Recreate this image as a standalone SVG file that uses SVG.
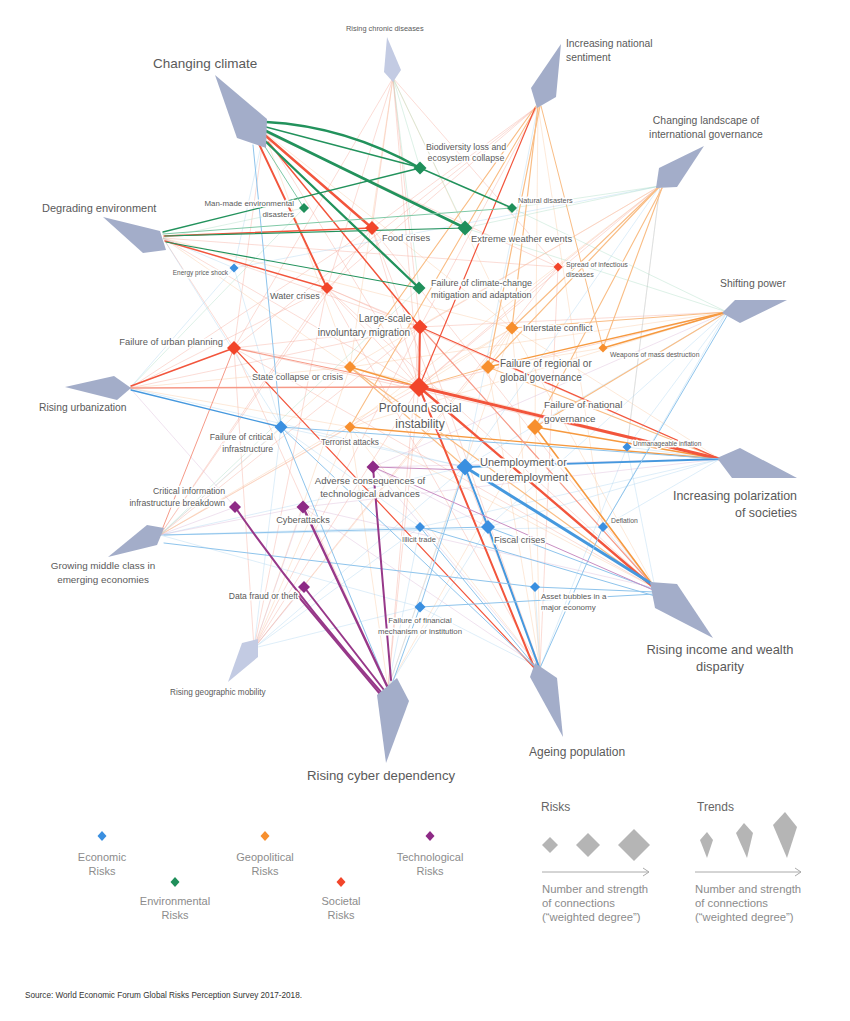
<svg xmlns="http://www.w3.org/2000/svg" width="850" height="1021" viewBox="0 0 850 1021">
<style>
.bg{fill:#fff}
.faint{fill:none;stroke-width:1;opacity:.38}
.fr{stroke:#f5a493}.fo{stroke:#f9c49a}.fb{stroke:#a9d1f0}.fg{stroke:#a5d9c0}.fp{stroke:#d8b2d4}
.e{fill:none;stroke-linecap:round}
.r{stroke:#f2553c}.o{stroke:#f6993f}.b{stroke:#4598de}.g{stroke:#22925c}.p{stroke:#973889}
.lr{stroke:#f69a88}.lo{stroke:#f9bd85}.lb{stroke:#8ec4ec}.lg{stroke:#7fc9a6}.lp{stroke:#c98ec2}
.trend{fill:#a3adc9}.trend2{fill:#c3cbe3}
.econ{fill:#3a8fe0}.env{fill:#1f8f5a}.geo{fill:#f78f2e}.soc{fill:#f2452a}.tech{fill:#8e2a86}
text{font-family:"Liberation Sans",Arial,Helvetica,sans-serif}
.lbl{fill:#5a5a5a;paint-order:stroke;stroke:#fff;stroke-width:3px;stroke-linejoin:round}
.leg{fill:#8c8c8c}
.legt{fill:#666}
.gray{fill:#b5b5b5}
.arr{fill:none;stroke:#aaa;stroke-width:1}
</style>
<rect class="bg" x="0" y="0" width="850" height="1021"/>

<g id="connectors">
<path class="faint fr" d="M393,78L558,267 M393,78L419,387 M393,78L372,228 M393,78L420,327 M393,78L327,288 M393,78L234,348 M264,132L419,387 M264,132L234,348 M264,132L558,267 M163,238L419,387 M163,238L420,327 M163,238L234,348 M163,238L558,267 M130,388L327,288 M130,388L420,327 M130,388L372,228 M160,535L419,387 M160,535L420,327 M160,535L327,288 M160,535L372,228 M254,648L420,327 M254,648L419,387 M254,648L234,348 M254,648L558,267 M254,648L327,288 M538,106L420,327 M538,106L234,348 M538,106L327,288 M538,106L372,228 M540,668L420,327 M540,668L558,267 M540,668L327,288 M540,668L372,228 M655,588L327,288 M655,588L372,228 M655,588L234,348 M720,459L327,288 M720,459L234,348 M727,312L420,327 M727,312L419,387 M660,186L420,327 M660,186L419,387 M660,186L558,267 M388,688L419,387 M388,688L420,327 M388,688L234,348 M234,348L350,367 M234,348L420,327 M327,288L419,387 M372,228L419,387 M558,267L419,387 M327,288L420,327"/>
<path class="faint fo" d="M538,106L535,427 M264,132L350,367 M264,132L512,328 M163,238L512,328 M163,238L350,367 M660,186L350,427 M660,186L350,367 M727,312L350,367 M727,312L350,427 M720,459L350,367 M720,459L512,328 M388,688L350,427 M388,688L535,427 M388,688L512,328 M655,588L512,328 M655,588L350,427 M130,388L350,367 M130,388L350,427 M160,535L350,427 M160,535L512,328 M160,535L350,367 M540,668L512,328 M540,668L350,427 M540,668L488,367 M540,668L535,427 M254,648L350,367 M254,648L512,328 M254,648L350,427 M393,78L512,328 M393,78L350,367 M512,328L488,367 M512,328L419,387 M603,348L488,367 M538,106L603,527 M660,186L627,447"/>
<path class="faint fb" d="M264,132L234,268 M163,238L234,268 M130,388L234,268 M160,535L281,427 M160,535L420,527 M160,535L465,467 M254,648L281,427 M254,648L465,467 M254,648L420,607 M254,648L420,527 M388,688L420,527 M388,688L488,527 M388,688L465,467 M540,668L420,607 M540,668L535,587 M540,668L465,467 M540,668L627,447 M655,588L627,447 M655,588L603,527 M720,459L627,447 M720,459L488,527 M720,459L603,527 M720,459L420,527 M727,312L627,447 M727,312L603,527 M727,312L488,527 M727,312L465,467 M660,186L627,447 M660,186L465,467 M660,186L234,268 M538,106L465,467 M130,388L465,467 M163,238L281,427 M281,427L420,527 M281,427L465,467 M234,268L281,427 M160,535L420,607 M160,535L603,527"/>
<path class="faint fg" d="M163,238L304,208 M130,388L304,208 M660,186L465,228 M660,186L512,208 M727,312L512,208 M160,535L419,288 M393,78L465,228 M393,78L419,288 M393,78L420,168 M727,312L465,228"/>
<path class="faint fp" d="M130,388L235,507 M160,535L235,507 M160,535L303,507 M720,459L373,467 M727,312L373,467 M655,588L303,507 M254,648L303,507 M540,668L373,467 M540,668L303,507 M254,648L304,587 M373,467L488,527 M720,459L303,507"/>

<path class="e lo" stroke-width="1.2" d="M538,106L512,328"/>
<path class="e lo" stroke-width="1.2" d="M540,106L488,367"/>
<path class="e lo" stroke-width="1.1" d="M536,106L350,367"/>
<path class="e lo" stroke-width="1.1" d="M536,108L350,427"/>
<path class="e lo" stroke-width="1" d="M541,106L603,348"/>
<path class="e lo" stroke-width="1.2" d="M660,186L488,367"/>
<path class="e lo" stroke-width="1.2" d="M660,186L512,328"/>
<path class="e lo" stroke-width="1.1" d="M662,188L603,348"/>
<path class="e lo" stroke-width="1.1" d="M662,188L535,427"/>
<path class="e lo" stroke-width="1.2" d="M727,312L512,328"/>
<path class="e o" stroke-width="1.5" d="M727,312L603,348"/>
<path class="e o" stroke-width="1.3" d="M727,312L488,367"/>
<path class="e lo" stroke-width="1.1" d="M727,312L535,427"/>
<path class="e o" stroke-width="1.6" d="M350,367L419,387"/>
<path class="e lo" stroke-width="1.1" d="M350,367L465,467"/>
<path class="e o" stroke-width="1.3" d="M350,427L720,459"/>
<path class="e o" stroke-width="1.6" d="M535,427L720,459"/>
<path class="e o" stroke-width="1.6" d="M535,427L655,588"/>
<path class="e lo" stroke-width="1.1" d="M488,367L720,459"/>
<path class="e lo" stroke-width="1" d="M488,367L419,387"/>
<path class="e lo" stroke-width="1.2" d="M350,367L655,588"/>

<path class="e r" stroke-width="2.4" d="M266,136L372,228"/>
<path class="e r" stroke-width="1.9" d="M258,142L327,288"/>
<path class="e r" stroke-width="1.5" d="M268,142L420,327"/>
<path class="e r" stroke-width="1.4" d="M164,236L372,228"/>
<path class="e r" stroke-width="1.4" d="M165,241L327,288"/>
<path class="e r" stroke-width="1.4" d="M131,386L234,348"/>
<path class="e lr" stroke-width="1.4" d="M131,388L419,387"/>
<path class="e lr" stroke-width="1.1" d="M234,348L419,387"/>
<path class="e lr" stroke-width="1" d="M234,348L158,540"/>
<path class="e r" stroke-width="1.2" d="M234,348L538,672"/>
<path class="e r" stroke-width="2" d="M420,327L419,387"/>
<path class="e r" stroke-width="1.2" d="M420,327L720,459"/>
<path class="e lr" stroke-width="1.2" d="M420,327L655,588"/>
<path class="e r" stroke-width="1.2" d="M535,108L419,387"/>
<path class="e r" stroke-width="3" d="M419,387L720,459"/>
<path class="e r" stroke-width="2.4" d="M419,387L652,586"/>
<path class="e r" stroke-width="2" d="M419,387L536,672"/>

<path class="e b" stroke-width="3" d="M465,467L652,584"/>
<path class="e b" stroke-width="1.8" d="M465,467L720,459"/>
<path class="e b" stroke-width="2" d="M465,467L488,527"/>
<path class="e b" stroke-width="2" d="M488,527L540,670"/>
<path class="e b" stroke-width="1.3" d="M131,390L281,427"/>
<path class="e lb" stroke-width="1" d="M281,427L538,670"/>
<path class="e lb" stroke-width="1" d="M281,427L720,459"/>
<path class="e lb" stroke-width="1" d="M488,527L655,590"/>
<path class="e lb" stroke-width="1" d="M535,587L655,592"/>
<path class="e lb" stroke-width="1" d="M420,607L655,594"/>
<path class="e lb" stroke-width="1" d="M420,527L655,596"/>
<path class="e lb" stroke-width="1" d="M603,527L540,668"/>
<path class="e lb" stroke-width="1" d="M420,607L392,684"/>
<path class="e lb" stroke-width="1" d="M420,527L538,670"/>
<path class="e lb" stroke-width="1" d="M164,543L535,587"/>
<path class="e lb" stroke-width="1" d="M164,535L488,527"/>
<path class="e lb" stroke-width="1" d="M281,427L388,688"/>
<path class="e lb" stroke-width="1" d="M253,145L281,427"/>
<path class="e lb" stroke-width="1" d="M465,467L420,607"/>
<path class="e lb" stroke-width="1" d="M727,316L603,527"/>

<path class="e g" stroke-width="2.4" d="M266,122Q345,126 420,168"/>
<path class="e g" stroke-width="1.3" d="M266,127L418,167"/>
<path class="e g" stroke-width="2.8" d="M266,131L465,228"/>
<path class="e g" stroke-width="2.3" d="M263,139L419,288"/>
<path class="e g" stroke-width="1.4" d="M420,168L512,208"/>
<path class="e g" stroke-width="1.3" d="M163,232L420,168"/>
<path class="e g" stroke-width="1.2" d="M165,236L465,228"/>
<path class="e g" stroke-width="1.2" d="M166,242L419,288"/>
<path class="e lg" stroke-width="1" d="M262,142L304,208"/>
<path class="e lg" stroke-width="1" d="M163,234L512,208"/>

<path class="e p" stroke-width="2" d="M235,507Q300,600 381,692"/>
<path class="e p" stroke-width="2" d="M304,587L384,690"/>
<path class="e p" stroke-width="2" d="M298,596L380,694"/>
<path class="e p" stroke-width="2.4" d="M303,507L387,686"/>
<path class="e p" stroke-width="2" d="M373,467L391,680"/>
<path class="e lp" stroke-width="1" d="M373,467L653,590"/>
<path class="e lp" stroke-width="1" d="M373,467L465,470"/>
</g>

<g id="trend-changing-climate"><polygon class="trend" points="215,75 267,119 266,148 237,138"/><text class="lbl" x="153" y="68" font-size="13.5">Changing climate</text></g>
<g id="trend-rising-chronic-diseases"><polygon class="trend2" points="387,37 401,70 393,82 384,72"/><text class="lbl" x="346" y="31" font-size="7.4">Rising chronic diseases</text></g>
<g id="trend-increasing-national-sentiment"><polygon class="trend" points="561,44 556,97 537,108 531,88"/><text class="lbl" x="566" y="47" font-size="10.3">Increasing national</text><text class="lbl" x="566" y="61" font-size="10.3">sentiment</text></g>
<g id="trend-changing-landscape"><polygon class="trend" points="704,146 677,187 656,188 659,168"/><text class="lbl" x="706" y="124" font-size="10.4" text-anchor="middle">Changing landscape of</text><text class="lbl" x="706" y="138" font-size="10.4" text-anchor="middle">international governance</text></g>
<g id="trend-degrading-environment"><polygon class="trend" points="103,217 160,231 166,250 143,253"/><text class="lbl" x="42" y="212" font-size="11">Degrading environment</text></g>
<g id="trend-shifting-power"><polygon class="trend" points="722,313 735,300 787,300 740,323"/><text class="lbl" x="720" y="287" font-size="10.4">Shifting power</text></g>
<g id="trend-rising-urbanization"><polygon class="trend" points="65,387 114,376 131,388 117,400"/><text class="lbl" x="39" y="411" font-size="10.3">Rising urbanization</text></g>
<g id="trend-increasing-polarization"><polygon class="trend" points="717,458 740,448 797,478 732,478"/><text class="lbl" x="797" y="500" font-size="12.4" text-anchor="end">Increasing polarization</text><text class="lbl" x="797" y="517" font-size="12.4" text-anchor="end">of societies</text></g>
<g id="trend-growing-middle-class"><polygon class="trend" points="108,557 147,525 164,528 157,545"/><text class="lbl" x="103" y="569" font-size="9.9" text-anchor="middle">Growing middle class in</text><text class="lbl" x="103" y="583" font-size="9.9" text-anchor="middle">emerging economies</text></g>
<g id="trend-rising-geographic-mobility"><polygon class="trend2" points="228,682 242,643 258,639 258,657"/><text class="lbl" x="170" y="695" font-size="8.2">Rising geographic mobility</text></g>
<g id="trend-rising-cyber-dependency"><polygon class="trend" points="377,695 397,678 409,701 386,763"/><text class="lbl" x="307" y="780" font-size="13.2">Rising cyber dependency</text></g>
<g id="trend-ageing-population"><polygon class="trend" points="530,677 535,663 557,678 563,737"/><text class="lbl" x="529" y="756" font-size="12">Ageing population</text></g>
<g id="trend-rising-income-disparity"><polygon class="trend" points="650,582 677,584 713,638 655,608"/><text class="lbl" x="720" y="654" font-size="12.9" text-anchor="middle">Rising income and wealth</text><text class="lbl" x="720" y="671" font-size="12.9" text-anchor="middle">disparity</text></g>

<g id="risk-biodiversity"><path class="env" d="M420,161.5L426.5,168L420,174.5L413.5,168Z"/><text class="lbl" x="466" y="150" font-size="8.8" text-anchor="middle">Biodiversity loss and</text><text class="lbl" x="466" y="161" font-size="8.8" text-anchor="middle">ecosystem collapse</text></g>
<g id="risk-man-made-disasters"><path class="env" d="M304,203L309,208L304,213L299,208Z"/><text class="lbl" x="294" y="206" font-size="7.9" text-anchor="end">Man-made environmental</text><text class="lbl" x="294" y="217" font-size="7.9" text-anchor="end">disasters</text></g>
<g id="risk-natural-disasters"><path class="env" d="M512,203L517,208L512,213L507,208Z"/><text class="lbl" x="518" y="203" font-size="7.3">Natural disasters</text></g>
<g id="risk-food-crises"><path class="soc" d="M372,221L379,228L372,235L365,228Z"/><text class="lbl" x="382" y="241" font-size="9.3">Food crises</text></g>
<g id="risk-extreme-weather"><path class="env" d="M465,220.5L472.5,228L465,235.5L457.5,228Z"/><text class="lbl" x="471" y="242" font-size="9.4">Extreme weather events</text></g>
<g id="risk-energy-price-shock"><path class="econ" d="M234,263.5L238.5,268L234,272.5L229.5,268Z"/><text class="lbl" x="228" y="275" font-size="6.5" text-anchor="end">Energy price shock</text></g>
<g id="risk-infectious-diseases"><path class="soc" d="M558,262.5L562.5,267L558,271.5L553.5,267Z"/><text class="lbl" x="566" y="267" font-size="7">Spread of infectious</text><text class="lbl" x="566" y="277" font-size="7">diseases</text></g>
<g id="risk-water-crises"><path class="soc" d="M327,282L333,288L327,294L321,288Z"/><text class="lbl" x="270" y="299" font-size="9">Water crises</text></g>
<g id="risk-climate-change-failure"><path class="env" d="M419,281.5L425.5,288L419,294.5L412.5,288Z"/><text class="lbl" x="431" y="286" font-size="9">Failure of climate-change</text><text class="lbl" x="431" y="298" font-size="9">mitigation and adaptation</text></g>
<g id="risk-involuntary-migration"><path class="soc" d="M420,319.5L427.5,327L420,334.5L412.5,327Z"/><text class="lbl" x="411" y="322" font-size="10" text-anchor="end">Large-scale</text><text class="lbl" x="410" y="336" font-size="10" text-anchor="end">involuntary migration</text></g>
<g id="risk-interstate-conflict"><path class="geo" d="M512,321.5L518.5,328L512,334.5L505.5,328Z"/><text class="lbl" x="523" y="331" font-size="9.2">Interstate conflict</text></g>
<g id="risk-urban-planning"><path class="soc" d="M234,341L241,348L234,355L227,348Z"/><text class="lbl" x="223" y="345" font-size="9.4" text-anchor="end">Failure of urban planning</text></g>
<g id="risk-weapons"><path class="geo" d="M603,343.5L607.5,348L603,352.5L598.5,348Z"/><text class="lbl" x="610" y="357" font-size="6.8">Weapons of mass destruction</text></g>
<g id="risk-state-collapse"><path class="geo" d="M350,361L356,367L350,373L344,367Z"/><text class="lbl" x="252" y="380" font-size="9.1">State collapse or crisis</text></g>
<g id="risk-regional-governance"><path class="geo" d="M488,360L495,367L488,374L481,367Z"/><text class="lbl" x="500" y="367" font-size="10">Failure of regional or</text><text class="lbl" x="500" y="381" font-size="10">global governance</text></g>
<g id="risk-social-instability"><path class="soc" d="M419,377L429,387L419,397L409,387Z"/><text class="lbl" x="420" y="412" font-size="12" text-anchor="middle">Profound social</text><text class="lbl" x="420" y="428" font-size="12" text-anchor="middle">instability</text></g>
<g id="risk-national-governance"><path class="geo" d="M535,419L543,427L535,435L527,427Z"/><text class="lbl" x="544" y="408" font-size="9.9">Failure of national</text><text class="lbl" x="544" y="422" font-size="9.9">governance</text></g>
<g id="risk-terrorist-attacks"><path class="geo" d="M350,421.5L355.5,427L350,432.5L344.5,427Z"/><text class="lbl" x="350" y="445" font-size="8.2" text-anchor="middle">Terrorist attacks</text></g>
<g id="risk-critical-infrastructure"><path class="econ" d="M281,420.5L287.5,427L281,433.5L274.5,427Z"/><text class="lbl" x="273" y="440" font-size="8.7" text-anchor="end">Failure of critical</text><text class="lbl" x="273" y="452" font-size="8.7" text-anchor="end">infrastructure</text></g>
<g id="risk-unmanageable-inflation"><path class="econ" d="M627,442.5L631.5,447L627,451.5L622.5,447Z"/><text class="lbl" x="633" y="446" font-size="6.5">Unmanageable inflation</text></g>
<g id="risk-adverse-tech"><path class="tech" d="M373,460.5L379.5,467L373,473.5L366.5,467Z"/><text class="lbl" x="370" y="484" font-size="9.6" text-anchor="middle">Adverse consequences of</text><text class="lbl" x="370" y="497" font-size="9.6" text-anchor="middle">technological advances</text></g>
<g id="risk-unemployment"><path class="econ" d="M465,458.5L473.5,467L465,475.5L456.5,467Z"/><text class="lbl" x="480" y="466" font-size="11">Unemployment or</text><text class="lbl" x="480" y="481" font-size="11">underemployment</text></g>
<g id="risk-info-infrastructure"><path class="tech" d="M235,501L241,507L235,513L229,507Z"/><text class="lbl" x="225" y="494" font-size="8.7" text-anchor="end">Critical information</text><text class="lbl" x="225" y="506" font-size="8.7" text-anchor="end">infrastructure breakdown</text></g>
<g id="risk-cyberattacks"><path class="tech" d="M303,500.5L309.5,507L303,513.5L296.5,507Z"/><text class="lbl" x="303" y="523" font-size="9.2" text-anchor="middle">Cyberattacks</text></g>
<g id="risk-illicit-trade"><path class="econ" d="M420,522L425,527L420,532L415,527Z"/><text class="lbl" x="419" y="542" font-size="7.5" text-anchor="middle">Illicit trade</text></g>
<g id="risk-fiscal-crises"><path class="econ" d="M488,520L495,527L488,534L481,527Z"/><text class="lbl" x="494" y="543" font-size="9.3">Fiscal crises</text></g>
<g id="risk-deflation"><path class="econ" d="M603,522L608,527L603,532L598,527Z"/><text class="lbl" x="611" y="523" font-size="6.8">Deflation</text></g>
<g id="risk-data-fraud"><path class="tech" d="M304,581L310,587L304,593L298,587Z"/><text class="lbl" x="298" y="599" font-size="8.6" text-anchor="end">Data fraud or theft</text></g>
<g id="risk-asset-bubbles"><path class="econ" d="M535,582L540,587L535,592L530,587Z"/><text class="lbl" x="541" y="599" font-size="8">Asset bubbles in a</text><text class="lbl" x="541" y="610" font-size="8">major economy</text></g>
<g id="risk-financial-failure"><path class="econ" d="M420,601.5L425.5,607L420,612.5L414.5,607Z"/><text class="lbl" x="420" y="623" font-size="7.8" text-anchor="middle">Failure of financial</text><text class="lbl" x="420" y="634" font-size="7.8" text-anchor="middle">mechanism or institution</text></g>

<g id="legend-categories">
<path class="econ" d="M102,831L106.5,836L102,841L97.5,836Z"/><text class="leg" x="102" y="861" font-size="11" text-anchor="middle">Economic</text><text class="leg" x="102" y="875" font-size="11" text-anchor="middle">Risks</text>
<path class="env" d="M175,877L179.5,882L175,887L170.5,882Z"/><text class="leg" x="175" y="905" font-size="11" text-anchor="middle">Environmental</text><text class="leg" x="175" y="919" font-size="11" text-anchor="middle">Risks</text>
<path class="geo" d="M265,831L269.5,836L265,841L260.5,836Z"/><text class="leg" x="265" y="861" font-size="11" text-anchor="middle">Geopolitical</text><text class="leg" x="265" y="875" font-size="11" text-anchor="middle">Risks</text>
<path class="soc" d="M341,877L345.5,882L341,887L336.5,882Z"/><text class="leg" x="341" y="905" font-size="11" text-anchor="middle">Societal</text><text class="leg" x="341" y="919" font-size="11" text-anchor="middle">Risks</text>
<path class="tech" d="M430,831L434.5,836L430,841L425.5,836Z"/><text class="leg" x="430" y="861" font-size="11" text-anchor="middle">Technological</text><text class="leg" x="430" y="875" font-size="11" text-anchor="middle">Risks</text>
</g>

<g id="legend-risks">
<text class="legt" x="541" y="811" font-size="12">Risks</text>
<path class="gray" d="M550,837L558,845L550,853L542,845Z"/>
<path class="gray" d="M588,833L600,845L588,857L576,845Z"/>
<path class="gray" d="M634,829L650,845L634,861L618,845Z"/>
<path class="arr" d="M542,872L649,872 M643,868L649,872L643,876"/>
<text class="leg" x="542" y="893" font-size="11.3">Number and strength</text>
<text class="leg" x="542" y="907" font-size="11.3">of connections</text>
<text class="leg" x="542" y="921" font-size="11.3">(“weighted degree”)</text>
</g>

<g id="legend-trends">
<text class="legt" x="697" y="811" font-size="12">Trends</text>
<polygon class="gray" points="707,832 713,840 707,858 700,840"/>
<polygon class="gray" points="744,823 753,833 747,858 736,833"/>
<polygon class="gray" points="785,812 797,827 787,858 773,825"/>
<path class="arr" d="M695,872L801,872 M795,868L801,872L795,876"/>
<text class="leg" x="695" y="893" font-size="11.3">Number and strength</text>
<text class="leg" x="695" y="907" font-size="11.3">of connections</text>
<text class="leg" x="695" y="921" font-size="11.3">(“weighted degree”)</text>
</g>

<text id="source" x="25" y="998" font-size="8.2" fill="#333">Source: World Economic Forum Global Risks Perception Survey 2017-2018.</text>
</svg>
